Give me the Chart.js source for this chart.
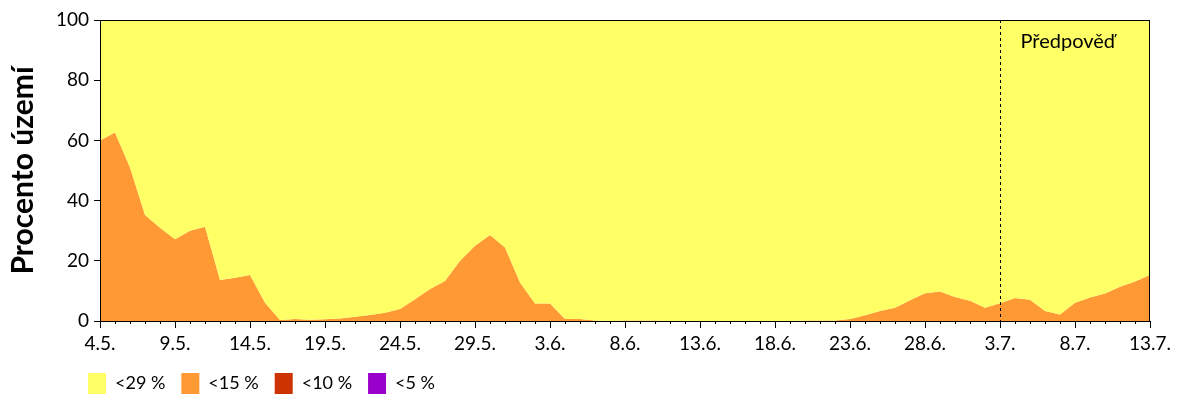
<!DOCTYPE html>
<html>
<head>
<meta charset="utf-8">
<script src="https://cdn.jsdelivr.net/npm/chart.js@4"></script>
<style>
  html, body { margin: 0; padding: 0; background: #ffffff; }
  #wrap { width: 1200px; height: 400px; position: relative; }
</style>
</head>
<body>
<div id="wrap"><canvas id="c" width="1200" height="400"></canvas></div>
<script>
// ---- data ----
const categories = [
  '4.5.','5.5.','6.5.','7.5.','8.5.','9.5.','10.5.','11.5.','12.5.','13.5.',
  '14.5.','15.5.','16.5.','17.5.','18.5.','19.5.','20.5.','21.5.','22.5.','23.5.',
  '24.5.','25.5.','26.5.','27.5.','28.5.','29.5.','30.5.','31.5.',
  '1.6.','2.6.','3.6.','4.6.','5.6.','6.6.','7.6.','8.6.','9.6.','10.6.',
  '11.6.','12.6.','13.6.','14.6.','15.6.','16.6.','17.6.','18.6.','19.6.','20.6.',
  '21.6.','22.6.','23.6.','24.6.','25.6.','26.6.','27.6.','28.6.','29.6.','30.6.',
  '1.7.','2.7.','3.7.','4.7.','5.7.','6.7.','7.7.','8.7.','9.7.','10.7.',
  '11.7.','12.7.','13.7.'
];
const below29 = [
  100,100,100,100,100,100,100,100,100,100,
  100,100,100,100,100,100,100,100,100,100,
  100,100,100,100,100,100,100,100,100,100,
  100,100,100,100,100,100,100,100,100,100,
  100,100,100,100,100,100,100,100,100,100,
  100,100,100,100,100,100,100,100,100,100,
  100,100,100,100,100,100,100,100,100,100,
  100
];
const below15 = [
  60, 62.6, 51, 35.2, 31, 27.2, 30, 31.3, 13.6, 14.4,
  15.3, 6.1, 0.3, 0.7, 0.4, 0.6, 0.8, 1.4, 2.0, 2.7,
  4.0, 7.2, 10.6, 13.3, 20, 25, 28.6, 24.4, 12.8, 5.8,
  5.8, 0.7, 0.7, 0.2, 0, 0.2, 0.2, 0.2, 0, 0,
  0, 0, 0, 0, 0, 0, 0, 0.2, 0.2, 0.2,
  0.7, 1.9, 3.3, 4.4, 6.9, 9.2, 9.8, 8.0, 6.7, 4.4,
  5.9, 7.6, 7.1, 3.3, 2.2, 6.1, 7.8, 9.1, 11.4, 13.1,
  15.3
];
const below10 = new Array(71).fill(0);
const below5 = new Array(71).fill(0);
const seriesNames = ['<29 %', '<15 %', '<10 %', '<5 %'];
const yTicks = [0, 20, 40, 60, 80, 100];
const forecastStart = '3.7.';
const forecastLabel = 'Předpověď';
const yTitle = 'Procento území';

const FONT = 'Lato, "Open Sans", sans-serif';

const framePlugin = {
  id: 'frame',
  afterLayout(chart) {
    const lg = chart.legend;
    if (lg) {
      lg.left += 72;
      lg.right += 72;
      lg.top += 4;
      lg.bottom += 4;
    }
  },
  afterDraw(chart) {
    const ctx = chart.ctx;
    const a = chart.chartArea;
    const xs = chart.scales.x;
    ctx.save();
    ctx.strokeStyle = '#000';
    ctx.lineWidth = 1;
    ctx.strokeRect(Math.round(a.left) + 0.5, Math.round(a.top) + 0.5,
                   Math.round(a.right - a.left) - 1, Math.round(a.bottom - a.top));
    ctx.beginPath();
    for (let i = 0; i < categories.length; i++) {
      const x = Math.round(xs.getPixelForValue(i)) + 0.5;
      const len = (i % 5 === 0) ? 7 : 3;
      ctx.moveTo(x, a.bottom);
      ctx.lineTo(x, a.bottom + len);
    }
    ctx.stroke();
    const fx = Math.round(xs.getPixelForValue(categories.indexOf(forecastStart))) + 0.5;
    ctx.setLineDash([3, 3]);
    ctx.beginPath();
    ctx.moveTo(fx, a.top);
    ctx.lineTo(fx, a.bottom);
    ctx.stroke();
    ctx.setLineDash([]);
    ctx.fillStyle = '#000';
    ctx.font = '20px ' + FONT;
    ctx.textAlign = 'left';
    ctx.textBaseline = 'middle';
    ctx.fillText(forecastLabel, fx + 20, a.top + 22);
    ctx.restore();
  }
};

new Chart(document.getElementById('c'), {
  type: 'line',
  data: {
    labels: categories,
    datasets: [
      { label: seriesNames[0], data: below29, backgroundColor: '#FFFF66', borderColor: '#FFFF66',
        borderWidth: 0, pointRadius: 0, fill: '+1', tension: 0 },
      { label: seriesNames[1], data: below15, backgroundColor: '#FF9933', borderColor: '#FF9933',
        borderWidth: 0, pointRadius: 0, fill: 'origin', tension: 0 },
      { label: seriesNames[2], data: below10, backgroundColor: '#CC3300', borderColor: '#CC3300',
        borderWidth: 0, pointRadius: 0, fill: 'origin', tension: 0 },
      { label: seriesNames[3], data: below5, backgroundColor: '#9900CC', borderColor: '#9900CC',
        borderWidth: 0, pointRadius: 0, fill: 'origin', tension: 0 }
    ]
  },
  options: {
    responsive: false,
    animation: false,
    events: [],
    layout: { padding: { left: 0, right: 50, top: 20, bottom: 0 } },
    plugins: {
      legend: {
        display: true,
        position: 'bottom',
        align: 'start',
        labels: {
          boxWidth: 18,
          boxHeight: 21,
          padding: 16,
          color: '#000',
          font: { family: FONT, size: 18 }
        }
      },
      tooltip: { enabled: false },
      filler: { propagate: false }
    },
    scales: {
      x: {
        type: 'category',
        offset: false,
        grid: { display: false },
        border: { display: true, color: '#000', width: 1 },
        ticks: {
          autoSkip: false,
          maxRotation: 0,
          minRotation: 0,
          padding: 3,
          color: '#000',
          font: { family: FONT, size: 19 },
          callback: function(v, i) { return i % 5 === 0 ? categories[i] : ''; }
        },
        afterFit(scale) { scale.height = 32; }
      },
      y: {
        min: 0,
        max: 100,
        afterBuildTicks(scale) { scale.ticks = yTicks.map(v => ({ value: v })); },
        grid: { drawOnChartArea: false, drawTicks: true, tickLength: 6, color: '#000' },
        border: { display: true, color: '#000', width: 1 },
        ticks: {
          padding: 5,
          color: '#000',
          font: { family: FONT, size: 19 }
        },
        title: {
          display: true,
          text: yTitle,
          color: '#000',
          font: { family: FONT, size: 30, weight: 'bold' },
          padding: { top: 5, bottom: 0 }
        },
        afterFit(scale) { scale.width = 100; }
      }
    }
  },
  plugins: [framePlugin]
});
</script>
</body>
</html>
